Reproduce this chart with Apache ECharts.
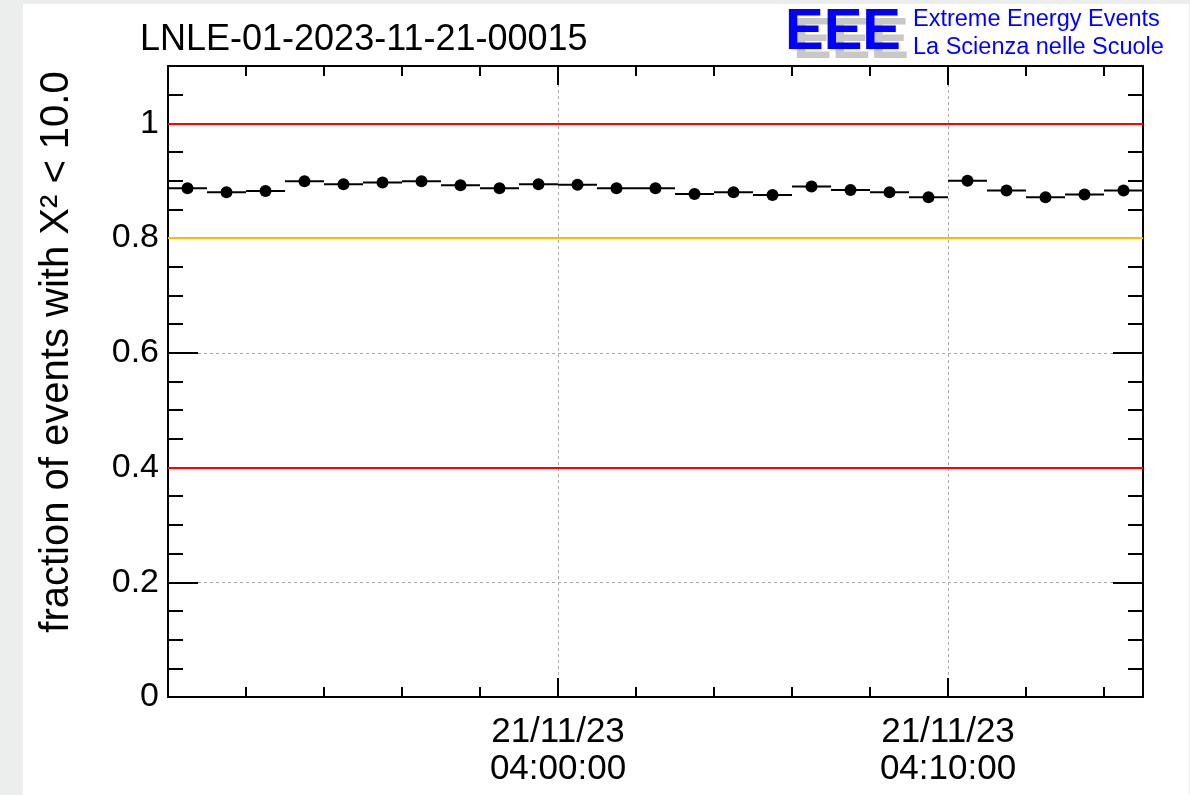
<!DOCTYPE html>
<html>
<head>
<meta charset="utf-8">
<script src="https://cdn.jsdelivr.net/npm/echarts@6/dist/echarts.min.js"></script>
<style>
  html, body { margin: 0; padding: 0; background: #eceeee; }
  #sheet { position: absolute; left: 23px; top: 4px; width: 1166px; height: 791px; background: #fff; }
  #chart { position: absolute; left: 0; top: 0; width: 1190px; height: 795px; }
</style>
</head>
<body>
<div id="sheet"></div>
<div id="chart"></div>
<script>
// bin centres (1 minute bins) and fraction of good-chi2 events
const binCentres = ['03:50:30', '03:51:30', '03:52:30', '03:53:30', '03:54:30', '03:55:30', '03:56:30',
  '03:57:30', '03:58:30', '03:59:30', '04:00:30', '04:01:30', '04:02:30', '04:03:30', '04:04:30',
  '04:05:30', '04:06:30', '04:07:30', '04:08:30', '04:09:30', '04:10:30', '04:11:30', '04:12:30',
  '04:13:30', '04:14:30']
const fraction = [0.887, 0.880, 0.882, 0.899, 0.894, 0.897, 0.899, 0.892, 0.887, 0.894, 0.893, 0.887,
  0.887, 0.877, 0.880, 0.875, 0.890, 0.884, 0.880, 0.871, 0.900, 0.883, 0.871, 0.876, 0.883]
const binWidthSec = 60
const xRange = ['03:50:00', '04:15:00']
const xLabelTimes = ['04:00:00', '04:10:00']
const xLabelDate = '21/11/23'
const yTicks = [0, 0.2, 0.4, 0.6, 0.8, 1]
const redLimits = [0.4, 1.0]
const orangeLimits = [0.8]

function toSec (t) {
  let p = t.split(':').map(Number)
  return p[0] * 3600 + p[1] * 60 + p[2]
}

const xMin = toSec(xRange[0])
const xMax = toSec(xRange[1])
const points = binCentres.map((t, i) => [toSec(t), fraction[i]])
const FONT = 'Liberation Sans, Arial, Helvetica, sans-serif'

let chart = echarts.init(document.getElementById('chart'))

// minor axes carry the frame line, major axes the long ticks / grid / labels
function xAxisDef (pos, step, len, minor, withLabel) {
  return {
    type: 'value', position: pos, min: xMin, max: xMax, interval: step,
    z: minor ? 1 : 0,
    axisLine: { show: minor, onZero: false, lineStyle: { color: '#000', width: 2 } },
    axisTick: { show: true, inside: true, length: len, lineStyle: { color: '#000', width: 2 } },
    axisLabel: {
      show: withLabel, margin: 17, color: '#000', fontSize: 35, lineHeight: 37, fontFamily: FONT,
      formatter: function (v) {
        let hit = xLabelTimes.find(t => toSec(t) === v)
        return hit ? xLabelDate + '\n' + hit : ''
      }
    },
    splitLine: { show: withLabel, lineStyle: { color: '#aaa', type: [3, 3], width: 1 } }
  }
}

function yAxisDef (pos, step, len, minor, withLabel) {
  return {
    type: 'value', position: pos, min: 0, max: 1.1, interval: step,
    z: minor ? 1 : 0,
    axisLine: { show: minor, onZero: false, lineStyle: { color: '#000', width: 2 } },
    axisTick: { show: true, inside: true, length: len, lineStyle: { color: '#000', width: 2 } },
    axisLabel: {
      show: withLabel, margin: 9, color: '#000', fontSize: 34, fontFamily: FONT,
      formatter: function (v) {
        let hit = yTicks.find(t => Math.abs(t - v) < 1e-6)
        return hit !== undefined ? String(hit) : ''
      }
    },
    splitLine: { show: withLabel, lineStyle: { color: '#aaa', type: [3, 3], width: 1 } }
  }
}

chart.setOption({
  animation: false,
  grid: { left: 168, right: 47, top: 66, bottom: 98, show: false },
  xAxis: [
    xAxisDef('bottom', 120, 10, true, false),
    xAxisDef('bottom', 600, 19, false, true),
    xAxisDef('top', 120, 10, true, false),
    xAxisDef('top', 600, 19, false, false)
  ],
  yAxis: [
    yAxisDef('left', 0.05, 15, true, false),
    yAxisDef('left', 0.2, 30, false, true),
    yAxisDef('right', 0.05, 15, true, false),
    yAxisDef('right', 0.2, 30, false, false)
  ],
  graphic: [
    {
      type: 'text', z: 10,
      style: { x: 140, y: 40, text: 'LNLE-01-2023-11-21-00015', fill: '#000',
        font: '36px ' + FONT, textAlign: 'left', textVerticalAlign: 'middle', verticalAlign: 'middle' }
    },
    {
      type: 'text', z: 10, x: 57, y: 352, rotation: Math.PI / 2,
      style: { x: 0, y: 0, text: 'fraction of events with X\u00b2 < 10.0', fill: '#000',
        font: '40px ' + FONT, textAlign: 'center', textVerticalAlign: 'middle', verticalAlign: 'middle' }
    },
    {
      type: 'text', z: 9,
      style: { x: 793, y: 42, text: 'EEE', fill: '#c8c8c8',
        font: 'bold 58px ' + FONT, textAlign: 'left', textVerticalAlign: 'middle', verticalAlign: 'middle' }
    },
    {
      type: 'text', z: 10,
      style: { x: 785, y: 33, text: 'EEE', fill: '#0000ff',
        font: 'bold 58px ' + FONT, textAlign: 'left', textVerticalAlign: 'middle', verticalAlign: 'middle' }
    },
    {
      type: 'text', z: 10,
      style: { x: 913, y: 20, text: 'Extreme Energy Events', fill: '#0000ff',
        font: '23.5px ' + FONT, textAlign: 'left', textVerticalAlign: 'middle', verticalAlign: 'middle' }
    },
    {
      type: 'text', z: 10,
      style: { x: 913, y: 48, text: 'La Scienza nelle Scuole', fill: '#0000ff',
        font: '23.5px ' + FONT, textAlign: 'left', textVerticalAlign: 'middle', verticalAlign: 'middle' }
    }
  ],
  series: [
    {
      name: 'bins',
      type: 'custom',
      xAxisIndex: 0, yAxisIndex: 0,
      data: points,
      renderItem: function (params, api) {
        let x = api.value(0), y = api.value(1)
        let a = api.coord([x - binWidthSec / 2, y])
        let b = api.coord([x + binWidthSec / 2, y])
        return {
          type: 'line',
          shape: { x1: a[0], y1: a[1], x2: b[0], y2: b[1] },
          style: { stroke: '#000', lineWidth: 2 }
        }
      },
      z: 3
    },
    {
      name: 'fraction',
      type: 'scatter',
      xAxisIndex: 0, yAxisIndex: 0,
      data: points,
      symbol: 'circle',
      symbolSize: 12,
      itemStyle: { color: '#000', opacity: 1 },
      z: 4,
      markLine: {
        silent: true,
        symbol: 'none',
        label: { show: false },
        data: redLimits.map(v => ({ yAxis: v, lineStyle: { color: '#ff0000', width: 2, type: 'solid' } }))
          .concat(orangeLimits.map(v => ({ yAxis: v, lineStyle: { color: '#ffbb00', width: 2, type: 'solid' } })))
      }
    }
  ]
})
</script>
</body>
</html>
